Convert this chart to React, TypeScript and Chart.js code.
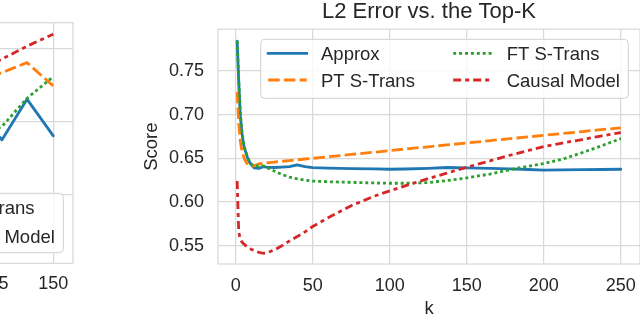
import React, { useEffect, useRef } from "react";
import { Chart, registerables } from "chart.js";

Chart.register(...registerables);

const FONT = "'Liberation Sans', Arial, Helvetica, sans-serif";
const TEXT = "#262626";
const GRID = "#d9d9d9";

const seriesLabels = ["Approx", "PT S-Trans", "FT S-Trans", "Causal Model"];
const seriesColors = ["#1f77b4", "#ff7f0e", "#2ca02c", "#d62728"];
const seriesDashes: number[][] = [[], [11.5, 4.2], [3, 2.9], [8, 4, 4, 4]];

// ---- main chart: L2 Error vs. the Top-K ----
const kValues = [1, 2, 3, 4, 5, 6, 8, 10, 12, 15, 18, 20, 25, 30, 35, 40, 45, 50, 60, 75, 90, 100, 110, 125, 137, 150, 165, 178, 190, 200, 212, 225, 237, 250];
const approxScore = [0.784, 0.738, 0.700, 0.680, 0.667, 0.660, 0.649, 0.643, 0.639, 0.6385, 0.6405, 0.640, 0.6395, 0.640, 0.6405, 0.6425, 0.6405, 0.6393, 0.6388, 0.6382, 0.638, 0.6375, 0.6378, 0.6385, 0.6395, 0.639, 0.6385, 0.638, 0.6372, 0.6365, 0.6368, 0.637, 0.6372, 0.6375];
const ptScore = [0.726, 0.690, 0.670, 0.659, 0.653, 0.648, 0.6425, 0.6405, 0.6415, 0.6435, 0.6442, 0.6448, 0.6457, 0.6466, 0.6474, 0.6483, 0.6492, 0.650, 0.6518, 0.6544, 0.657, 0.6588, 0.6606, 0.6632, 0.6653, 0.6675, 0.6702, 0.6725, 0.6745, 0.6763, 0.6784, 0.6806, 0.6828, 0.6848];
const ftScore = [0.784, 0.740, 0.703, 0.682, 0.669, 0.661, 0.650, 0.6435, 0.6415, 0.641, 0.6412, 0.6395, 0.6355, 0.6315, 0.6285, 0.6265, 0.625, 0.624, 0.6232, 0.6225, 0.6218, 0.6215, 0.6215, 0.6222, 0.6245, 0.6275, 0.632, 0.637, 0.641, 0.644, 0.649, 0.6565, 0.664, 0.6725];
const causalScore = [0.624, 0.566, 0.5575, 0.5545, 0.5525, 0.551, 0.548, 0.546, 0.5445, 0.5425, 0.5414, 0.5418, 0.545, 0.550, 0.5555, 0.5605, 0.5658, 0.572, 0.582, 0.5958, 0.6067, 0.6128, 0.6185, 0.6268, 0.633, 0.6398, 0.647, 0.6535, 0.659, 0.6634, 0.6675, 0.6715, 0.6755, 0.6794];
const xTicksMain = [0, 50, 100, 150, 200, 250];
const yTicksMain = [0.55, 0.6, 0.65, 0.7, 0.75];
const mainTitle = "L2 Error vs. the Top-K";
const mainXLabel = "k";
const mainYLabel = "Score";

// ---- neighbouring chart (only its right edge is visible) ----
const leftK = [117.5, 128.5, 139, 150];
const leftApprox = [0.66, 0.6375, 0.6653, 0.6403];
const leftPt = [0.677, 0.6834, 0.6902, 0.6743];
const leftFt = [0.64, 0.6466, 0.6659, 0.6807];
const leftCausal = [0.684, 0.6926, 0.7014, 0.7096];
const xTicksLeft = [0, 25, 50, 75, 100, 125, 150];
const yTicksLeft = [0.6, 0.65, 0.7];

type LegendCfg = { left: number; top: number; w: number; h: number; rows: number[] };

const LINE_OFF = [7.5, 192.5];
const LINE_LEN = 38.5;
const TEXT_OFF = [60.3, 246];

function makeDatasets(xs: number[], ys: number[][]) {
  return ys.map((vals, i) => ({
    label: seriesLabels[i],
    data: xs.map((x, j) => ({ x, y: vals[j] })),
    borderColor: seriesColors[i],
    backgroundColor: seriesColors[i],
    borderWidth: 2.8,
    borderDash: seriesDashes[i],
    borderCapStyle: seriesDashes[i].length ? "butt" : "round",
    borderJoinStyle: "round",
    pointRadius: 0,
    tension: 0,
    fill: false,
    order: 3 - i,
  }));
}

function framePlugin() {
  return {
    id: "frame",
    afterDatasetsDraw(chart: any) {
      const { ctx, chartArea: a } = chart;
      ctx.save();
      ctx.strokeStyle = GRID;
      ctx.lineWidth = 1.25;
      ctx.strokeRect(a.left, a.top, a.right - a.left, a.bottom - a.top);
      ctx.restore();
    },
  };
}

function legendPlugin(cfg: LegendCfg) {
  return {
    id: "boxLegend",
    afterDraw(chart: any) {
      const ctx: CanvasRenderingContext2D = chart.ctx;
      const { left, top, w, h, rows } = cfg;
      ctx.save();
      ctx.beginPath();
      const r = 4;
      ctx.moveTo(left + r, top);
      ctx.lineTo(left + w - r, top);
      ctx.arcTo(left + w, top, left + w, top + r, r);
      ctx.lineTo(left + w, top + h - r);
      ctx.arcTo(left + w, top + h, left + w - r, top + h, r);
      ctx.lineTo(left + r, top + h);
      ctx.arcTo(left, top + h, left, top + h - r, r);
      ctx.lineTo(left, top + r);
      ctx.arcTo(left, top, left + r, top, r);
      ctx.closePath();
      ctx.fillStyle = "rgba(255,255,255,0.8)";
      ctx.fill();
      ctx.strokeStyle = "#d0d0d0";
      ctx.lineWidth = 1;
      ctx.stroke();
      seriesLabels.forEach((lab, i) => {
        const col = Math.floor(i / 2);
        const row = i % 2;
        const y = top + rows[row];
        const x0 = left + LINE_OFF[col];
        ctx.beginPath();
        ctx.setLineDash(seriesDashes[i]);
        ctx.lineCap = seriesDashes[i].length ? "butt" : "square";
        ctx.lineWidth = 2.8;
        ctx.strokeStyle = seriesColors[i];
        ctx.moveTo(x0, y);
        ctx.lineTo(x0 + LINE_LEN, y);
        ctx.stroke();
        ctx.setLineDash([]);
        ctx.fillStyle = TEXT;
        ctx.font = `18.5px ${FONT}`;
        ctx.textAlign = "left";
        ctx.textBaseline = "alphabetic";
        ctx.fillText(lab, left + TEXT_OFF[col], y + 6.7);
      });
      ctx.restore();
    },
  };
}

function axisCommon(ticks: number[], fixed: (s: any) => void, tickFont: number, pad: number, fmt: (v: number) => string) {
  return {
    type: "linear" as const,
    afterBuildTicks: (s: any) => {
      s.ticks = ticks.map((v) => ({ value: v }));
    },
    afterFit: (s: any) => {
      fixed(s);
      s.paddingLeft = 0;
      s.paddingRight = 0;
      s.paddingTop = 0;
      s.paddingBottom = 0;
    },
    grid: { color: GRID, lineWidth: 1.25, drawTicks: false },
    border: { display: false },
    ticks: {
      padding: pad,
      color: TEXT,
      font: { family: FONT, size: tickFont },
      maxRotation: 0,
      autoSkip: false,
      callback: (v: any) => fmt(Number(v)),
    },
  };
}

export default function App() {
  const mainRef = useRef<HTMLCanvasElement>(null);
  const leftRef = useRef<HTMLCanvasElement>(null);

  useEffect(() => {
    const leftChart = new Chart(leftRef.current as HTMLCanvasElement, {
      type: "line",
      data: { datasets: makeDatasets(leftK, [leftApprox, leftPt, leftFt, leftCausal]) as any },
      options: {
        animation: false,
        responsive: false,
        devicePixelRatio: 1,
        layout: { padding: { left: 0, right: 5, top: 22.7, bottom: 0 } },
        plugins: { legend: { display: false }, title: { display: false }, tooltip: { enabled: false } },
        scales: {
          x: {
            ...axisCommon(xTicksLeft, (s) => (s.height = 52.7), 18, 10, (v) => String(v)),
            min: -9,
            max: 158.24,
          },
          y: {
            ...axisCommon(yTicksLeft, (s) => (s.width = 100), 18, 14, (v) => v.toFixed(2)),
            min: 0.5535,
            max: 0.7174,
          },
        } as any,
      },
      plugins: [framePlugin(), legendPlugin({ left: 122.7, top: 193.3, w: 367.6, h: 59.4, rows: [14.3, 42.7] })],
    });

    const mainChart = new Chart(mainRef.current as HTMLCanvasElement, {
      type: "line",
      data: { datasets: makeDatasets(kValues, [approxScore, ptScore, ftScore, causalScore]) as any },
      options: {
        animation: false,
        responsive: false,
        devicePixelRatio: 1,
        layout: { padding: { left: 141, right: 0, top: 0, bottom: 0 } },
        plugins: {
          legend: { display: false },
          tooltip: { enabled: false },
          title: {
            display: true,
            text: mainTitle,
            fullSize: false,
            color: TEXT,
            font: { family: FONT, size: 22, weight: "normal", lineHeight: 1.1 },
            padding: { top: 0, bottom: 5 },
          },
        },
        scales: {
          x: {
            ...axisCommon(xTicksMain, (s) => (s.height = 52), 18, 11.5, (v) => String(v)),
            min: -11.45,
            max: 262.45,
            title: {
              display: true,
              text: mainXLabel,
              color: TEXT,
              font: { family: FONT, size: 18.5, lineHeight: 1 },
              padding: { top: 0, bottom: -2.5 },
            },
          },
          y: {
            ...axisCommon(yTicksMain, (s) => (s.width = 77), 18, 14, (v) => v.toFixed(2)),
            min: 0.5291,
            max: 0.7977,
            title: {
              display: true,
              text: mainYLabel,
              color: TEXT,
              font: { family: FONT, size: 18.5, lineHeight: 1.2 },
              padding: { top: 0, bottom: 0 },
            },
          },
        } as any,
      },
      plugins: [framePlugin(), legendPlugin({ left: 260.7, top: 39.3, w: 367.6, h: 59, rows: [14, 40.7] })],
    });

    return () => {
      mainChart.destroy();
      leftChart.destroy();
    };
  }, []);

  return (
    <div style={{ position: "absolute", left: 0, top: 0, width: 640, height: 316, overflow: "hidden", background: "#fff" }}>
      <canvas ref={leftRef} width={505} height={316} style={{ position: "absolute", left: -427, top: 0, width: 505, height: 316 }} />
      <canvas ref={mainRef} width={640} height={316} style={{ position: "absolute", left: 0, top: 0, width: 640, height: 316 }} />
    </div>
  );
}
